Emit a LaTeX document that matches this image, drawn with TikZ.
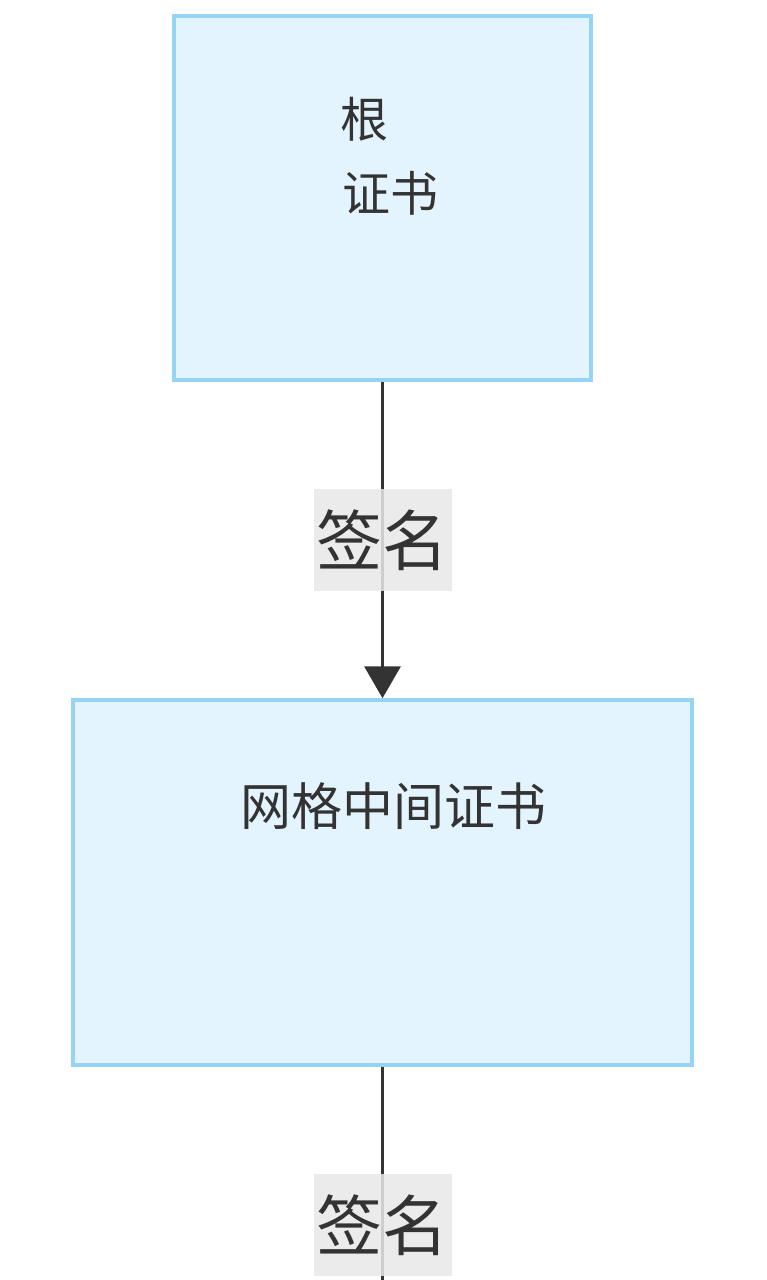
\documentclass[tikz,border=0pt]{standalone}
\usepackage{fontspec}
\setmainfont{Noto Sans CJK SC}
\usetikzlibrary{arrows.meta}
\definecolor{boxfill}{HTML}{E3F4FE}
\definecolor{boxline}{HTML}{95D3F7}
\definecolor{ink}{HTML}{333333}
\definecolor{lblbg}{HTML}{E8E8E8}
\tikzset{
  certbox/.style={draw=boxline, fill=boxfill, line width=3.5pt, inner sep=0pt},
  certtext/.style={text=ink, font=\fontsize{48}{76}\selectfont, inner sep=0pt},
  edgeline/.style={draw=ink, line width=3.5pt},
  edgelabel/.style={fill=lblbg, fill opacity=0.85, text opacity=1, text=ink, font=\fontsize{66}{70}\selectfont, minimum width=138pt, minimum height=102pt, inner sep=0pt},
  tip/.style={-{Triangle[length=32pt,width=36pt]}}
}
\begin{document}
\begin{tikzpicture}[x=1pt,y=1pt]
\useasboundingbox (0,0) rectangle (767,-1280);
\clip (0,0) rectangle (767,-1280);
\fill[white] (0,0) rectangle (767,-1280);
\node[certbox, minimum width=417pt, minimum height=364pt] (root) at (382.5,-198) {};
\node[certtext, align=left, anchor=north west] (roottext) at (340,-97) {根\\[-2pt]\hspace{2pt}证书};
\node[certbox, minimum width=619pt, minimum height=365pt] (mid) at (382.5,-882.5) {};
\node[certtext, font=\fontsize{51}{55}\selectfont] (midtext) at (393,-806) {网格中间证书};
\coordinate (leaf) at (382.5,-1300);
\draw[edgeline, tip] (root.south) -- (mid.north) node[pos=0.5, edgelabel] (l1) {签名};
\draw[edgeline] (mid.south) -- (leaf);
\node[edgelabel] (l2) at (382.5,-1225) {签名};
\end{tikzpicture}
\end{document}
